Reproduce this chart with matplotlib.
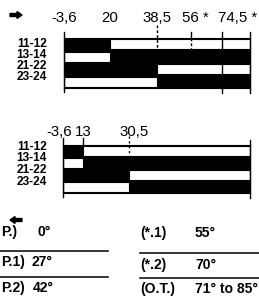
import numpy as np
import matplotlib
matplotlib.use("Agg")
import matplotlib.pyplot as plt

# === data ===
rows = ["11-12", "13-14", "21-22", "23-24"]

top_ticks = [-3.6, 20, 38.5, 56, 74.5]
top_tick_labels = ["-3,6", "20", "38,5", "56 *", "74,5 *"]
top_end = 90
top_white_from = [20, -3.6, 38.5, -3.6]
top_white_to = [top_end, 20, top_end, 38.5]

bottom_ticks = [-3.6, 13, 30.5]
bottom_tick_labels = ["-3,6", "13", "30,5"]
bottom_end = 90
bottom_white_from = [13, -3.6, 30.5, -3.6]
bottom_white_to = [bottom_end, 13, bottom_end, 30.5]

left_names = ["P.)", "P.1)", "P.2)"]
left_angles = ["0°", "27°", "42°"]
right_names = ["(*.1)", "(*.2)", "(O.T.)"]
right_angles = ["55°", "70°", "71° to 85°"]

# === figure, everything laid out in pixels of the 259x299 picture ===
W, H = 259, 299
plt.rcParams["font.family"] = ["Liberation Sans", "DejaVu Sans"]
fig = plt.figure(figsize=(W / 100, H / 100), dpi=100)

# overlay axes in pixel units (y down) for free text, arrows, table rules
ov = fig.add_axes([0, 0, 1, 1], zorder=0)
ov.set_xlim(0, W)
ov.set_ylim(H, 0)
ov.axis("off")


def chart(knot_vals, knot_px, y0, y1, w_from, w_to, tick_vals, tick_labels,
          label_y, label_dx, row_y, lines):
    # schematic (non linear) angle axis: piecewise linear scale through the knots
    fwd = lambda v: np.interp(v, knot_vals, knot_px)
    inv = lambda p: np.interp(p, knot_px, knot_vals)
    ax = fig.add_axes([knot_px[0] / W, (H - y1) / H,
                       (knot_px[-1] - knot_px[0]) / W, (y1 - y0) / H], zorder=2)
    ax.set_xscale("function", functions=(fwd, inv))
    ax.set_xlim(knot_vals[0], knot_vals[-1])
    ax.set_ylim(4, 0)
    ax.set_facecolor("black")
    ax.set_xticks([])
    ax.set_yticks([])
    for s in ax.spines.values():
        s.set_color("black")

    ax.barh(np.arange(len(rows)) + 0.5, np.array(w_to) - np.array(w_from),
            left=w_from, height=0.78, color="white", edgecolor="black",
            linewidth=0.8)

    rowh = (y1 - y0) / 4
    for v, a, b, ls in lines:
        ax.plot([v, v], [(a - y0) / rowh, (b - y0) / rowh], color="black",
                lw=1.0, ls=ls, clip_on=False, zorder=5)

    for v, lab, dx in zip(tick_vals, tick_labels, label_dx):
        ax.annotate(lab, xy=(v, (label_y - y0) / rowh), xytext=(dx, 0),
                    textcoords="offset pixels", ha="center", va="center",
                    fontsize=10.8, annotation_clip=False)

    for lab, y in zip(rows, row_y):
        ov.text(47, y, lab, ha="right", va="center", fontsize=8.6,
                fontweight="bold")
    return ax


chart(top_ticks + [top_end], [64, 110, 157, 191, 222, 250], 38, 88,
      top_white_from, top_white_to, top_ticks, top_tick_labels,
      17.5, [0, 0, 0, 4, 16], [44, 55, 66, 77],
      [(-3.6, 32, 92, "-"), (38.5, 25, 50, (0, (2, 1.5))),
       (56, 32, 38, "-"), (56, 38, 50, (0, (2, 1.5))),
       (74.5, 32, 93, "-"), (top_end, 32, 93, "-")])

chart(bottom_ticks + [bottom_end], [63, 83, 129, 250], 145, 193,
      bottom_white_from, bottom_white_to, bottom_ticks, bottom_tick_labels,
      132, [-4, 0, 5], [147, 158, 170, 182],
      [(-3.6, 138, 197, "-"), (13, 138, 145, "-"),
       (30.5, 136, 157, (0, (1.5, 2))), (bottom_end, 140, 198, "-")])

# arrows
ov.arrow(10, 15, 12, 0, width=3, head_width=7, head_length=5,
         length_includes_head=True, color="black")
ov.arrow(22, 220, -12, 0, width=3, head_width=7, head_length=5,
         length_includes_head=True, color="black")

# === angle table ===
for name, ang, y, ax_x in zip(left_names, left_angles, [232, 262, 288], [37, 32, 33]):
    ov.text(1, y, name, ha="left", va="center", fontsize=10, fontweight="bold")
    ov.text(ax_x, y, ang, ha="left", va="center", fontsize=10, fontweight="bold")
for name, ang, y in zip(right_names, right_angles, [233, 265, 289]):
    ov.text(140, y, name, ha="left", va="center", fontsize=10, fontweight="bold")
    ov.text(195, y, ang, ha="left", va="center", fontsize=10, fontweight="bold")

for y in [251, 277]:
    ov.plot([0, 108], [y, y], color="black", lw=1.1)
for y in [253, 278]:
    ov.plot([140, W], [y, y], color="black", lw=1.1)

fig.savefig("out.png", dpi=100, facecolor="white")
